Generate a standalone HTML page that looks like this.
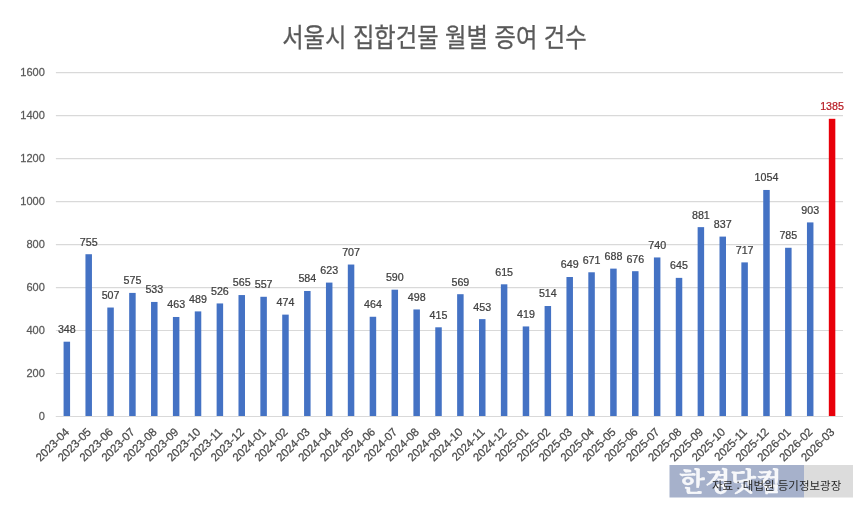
<!DOCTYPE html>
<html lang="ko"><head><meta charset="utf-8"><title>서울시 집합건물 월별 증여 건수</title>
<style>
html,body{margin:0;padding:0;background:#fff;}
body{width:860px;height:505px;overflow:hidden;}
svg{display:block;filter:blur(.4px);}
text{font-family:"Liberation Sans","Noto Sans CJK KR",sans-serif;}
.t{font-family:"Noto Sans CJK KR","Liberation Sans",sans-serif;font-weight:400;font-size:23.3px;fill:#595959;stroke:#595959;stroke-width:.25px;}
.ax{font-size:11.5px;fill:#595959;stroke:#595959;stroke-width:.25px;}
.xl{font-size:11.5px;fill:#4a4a4a;stroke:#4a4a4a;stroke-width:.25px;}
.dl{font-size:11.5px;fill:#404040;stroke:#404040;stroke-width:.25px;}
.src{font-family:"Noto Sans CJK KR","Liberation Sans",sans-serif;font-size:11.5px;fill:#262626;}
.wm{font-family:"Noto Serif CJK KR","Noto Serif CJK SC","Noto Sans CJK KR",serif;font-weight:700;font-size:26.5px;fill:#fff;fill-opacity:.9;stroke:#fff;stroke-opacity:.9;stroke-width:.4px;}
</style></head><body>
<svg width="860" height="505" viewBox="0 0 860 505">
<rect width="860" height="505" fill="#fff"/>
<text class="t" transform="translate(434.4,46.5) scale(1,1.12)" text-anchor="middle">서울시 집합건물 월별 증여 건수</text>
<line x1="55.9" x2="843.0" y1="416.50" y2="416.50" stroke="#d9d9d9" stroke-width="1.2"/>
<text class="ax" transform="translate(44.8,420.10) scale(0.96,1)" text-anchor="end">0</text>
<line x1="55.9" x2="843.0" y1="373.51" y2="373.51" stroke="#d9d9d9" stroke-width="1.2"/>
<text class="ax" transform="translate(44.8,377.11) scale(0.96,1)" text-anchor="end">200</text>
<line x1="55.9" x2="843.0" y1="330.52" y2="330.52" stroke="#d9d9d9" stroke-width="1.2"/>
<text class="ax" transform="translate(44.8,334.12) scale(0.96,1)" text-anchor="end">400</text>
<line x1="55.9" x2="843.0" y1="287.54" y2="287.54" stroke="#d9d9d9" stroke-width="1.2"/>
<text class="ax" transform="translate(44.8,291.14) scale(0.96,1)" text-anchor="end">600</text>
<line x1="55.9" x2="843.0" y1="244.55" y2="244.55" stroke="#d9d9d9" stroke-width="1.2"/>
<text class="ax" transform="translate(44.8,248.15) scale(0.96,1)" text-anchor="end">800</text>
<line x1="55.9" x2="843.0" y1="201.56" y2="201.56" stroke="#d9d9d9" stroke-width="1.2"/>
<text class="ax" transform="translate(44.8,205.16) scale(0.96,1)" text-anchor="end">1000</text>
<line x1="55.9" x2="843.0" y1="158.57" y2="158.57" stroke="#d9d9d9" stroke-width="1.2"/>
<text class="ax" transform="translate(44.8,162.17) scale(0.96,1)" text-anchor="end">1200</text>
<line x1="55.9" x2="843.0" y1="115.59" y2="115.59" stroke="#d9d9d9" stroke-width="1.2"/>
<text class="ax" transform="translate(44.8,119.19) scale(0.96,1)" text-anchor="end">1400</text>
<line x1="55.9" x2="843.0" y1="72.60" y2="72.60" stroke="#d9d9d9" stroke-width="1.2"/>
<text class="ax" transform="translate(44.8,76.20) scale(0.96,1)" text-anchor="end">1600</text>
<rect x="63.58" y="341.70" width="6.5" height="74.80" fill="#4472c4"/>
<text class="dl" transform="translate(66.83,333.10) scale(0.93,1)" text-anchor="middle">348</text>
<text class="xl" transform="translate(69.93,432.70) rotate(-45) scale(0.985,1)" text-anchor="end">2023-04</text>
<rect x="85.45" y="254.22" width="6.5" height="162.28" fill="#4472c4"/>
<text class="dl" transform="translate(88.70,245.62) scale(0.93,1)" text-anchor="middle">755</text>
<text class="xl" transform="translate(91.80,432.70) rotate(-45) scale(0.985,1)" text-anchor="end">2023-05</text>
<rect x="107.31" y="307.53" width="6.5" height="108.97" fill="#4472c4"/>
<text class="dl" transform="translate(110.56,298.93) scale(0.93,1)" text-anchor="middle">507</text>
<text class="xl" transform="translate(113.66,432.70) rotate(-45) scale(0.985,1)" text-anchor="end">2023-06</text>
<rect x="129.17" y="292.91" width="6.5" height="123.59" fill="#4472c4"/>
<text class="dl" transform="translate(132.42,284.31) scale(0.93,1)" text-anchor="middle">575</text>
<text class="xl" transform="translate(135.52,432.70) rotate(-45) scale(0.985,1)" text-anchor="end">2023-07</text>
<rect x="151.04" y="301.94" width="6.5" height="114.56" fill="#4472c4"/>
<text class="dl" transform="translate(154.29,293.34) scale(0.93,1)" text-anchor="middle">533</text>
<text class="xl" transform="translate(157.39,432.70) rotate(-45) scale(0.985,1)" text-anchor="end">2023-08</text>
<rect x="172.90" y="316.98" width="6.5" height="99.52" fill="#4472c4"/>
<text class="dl" transform="translate(176.15,308.38) scale(0.93,1)" text-anchor="middle">463</text>
<text class="xl" transform="translate(179.25,432.70) rotate(-45) scale(0.985,1)" text-anchor="end">2023-09</text>
<rect x="194.77" y="311.40" width="6.5" height="105.10" fill="#4472c4"/>
<text class="dl" transform="translate(198.02,302.80) scale(0.93,1)" text-anchor="middle">489</text>
<text class="xl" transform="translate(201.12,432.70) rotate(-45) scale(0.985,1)" text-anchor="end">2023-10</text>
<rect x="216.63" y="303.44" width="6.5" height="113.06" fill="#4472c4"/>
<text class="dl" transform="translate(219.88,294.84) scale(0.93,1)" text-anchor="middle">526</text>
<text class="xl" transform="translate(222.98,432.70) rotate(-45) scale(0.985,1)" text-anchor="end">2023-11</text>
<rect x="238.49" y="295.06" width="6.5" height="121.44" fill="#4472c4"/>
<text class="dl" transform="translate(241.74,286.46) scale(0.93,1)" text-anchor="middle">565</text>
<text class="xl" transform="translate(244.84,432.70) rotate(-45) scale(0.985,1)" text-anchor="end">2023-12</text>
<rect x="260.36" y="296.78" width="6.5" height="119.72" fill="#4472c4"/>
<text class="dl" transform="translate(263.61,288.18) scale(0.93,1)" text-anchor="middle">557</text>
<text class="xl" transform="translate(266.71,432.70) rotate(-45) scale(0.985,1)" text-anchor="end">2024-01</text>
<rect x="282.22" y="314.62" width="6.5" height="101.88" fill="#4472c4"/>
<text class="dl" transform="translate(285.47,306.02) scale(0.93,1)" text-anchor="middle">474</text>
<text class="xl" transform="translate(288.57,432.70) rotate(-45) scale(0.985,1)" text-anchor="end">2024-02</text>
<rect x="304.08" y="290.98" width="6.5" height="125.52" fill="#4472c4"/>
<text class="dl" transform="translate(307.33,282.38) scale(0.93,1)" text-anchor="middle">584</text>
<text class="xl" transform="translate(310.43,432.70) rotate(-45) scale(0.985,1)" text-anchor="end">2024-03</text>
<rect x="325.95" y="282.59" width="6.5" height="133.91" fill="#4472c4"/>
<text class="dl" transform="translate(329.20,273.99) scale(0.93,1)" text-anchor="middle">623</text>
<text class="xl" transform="translate(332.30,432.70) rotate(-45) scale(0.985,1)" text-anchor="end">2024-04</text>
<rect x="347.81" y="264.54" width="6.5" height="151.96" fill="#4472c4"/>
<text class="dl" transform="translate(351.06,255.94) scale(0.93,1)" text-anchor="middle">707</text>
<text class="xl" transform="translate(354.16,432.70) rotate(-45) scale(0.985,1)" text-anchor="end">2024-05</text>
<rect x="369.68" y="316.77" width="6.5" height="99.73" fill="#4472c4"/>
<text class="dl" transform="translate(372.93,308.17) scale(0.93,1)" text-anchor="middle">464</text>
<text class="xl" transform="translate(376.03,432.70) rotate(-45) scale(0.985,1)" text-anchor="end">2024-06</text>
<rect x="391.54" y="289.69" width="6.5" height="126.81" fill="#4472c4"/>
<text class="dl" transform="translate(394.79,281.09) scale(0.93,1)" text-anchor="middle">590</text>
<text class="xl" transform="translate(397.89,432.70) rotate(-45) scale(0.985,1)" text-anchor="end">2024-07</text>
<rect x="413.40" y="309.46" width="6.5" height="107.04" fill="#4472c4"/>
<text class="dl" transform="translate(416.65,300.86) scale(0.93,1)" text-anchor="middle">498</text>
<text class="xl" transform="translate(419.75,432.70) rotate(-45) scale(0.985,1)" text-anchor="end">2024-08</text>
<rect x="435.27" y="327.30" width="6.5" height="89.20" fill="#4472c4"/>
<text class="dl" transform="translate(438.52,318.70) scale(0.93,1)" text-anchor="middle">415</text>
<text class="xl" transform="translate(441.62,432.70) rotate(-45) scale(0.985,1)" text-anchor="end">2024-09</text>
<rect x="457.13" y="294.20" width="6.5" height="122.30" fill="#4472c4"/>
<text class="dl" transform="translate(460.38,285.60) scale(0.93,1)" text-anchor="middle">569</text>
<text class="xl" transform="translate(463.48,432.70) rotate(-45) scale(0.985,1)" text-anchor="end">2024-10</text>
<rect x="479.00" y="319.13" width="6.5" height="97.37" fill="#4472c4"/>
<text class="dl" transform="translate(482.25,310.53) scale(0.93,1)" text-anchor="middle">453</text>
<text class="xl" transform="translate(485.35,432.70) rotate(-45) scale(0.985,1)" text-anchor="end">2024-11</text>
<rect x="500.86" y="284.31" width="6.5" height="132.19" fill="#4472c4"/>
<text class="dl" transform="translate(504.11,275.71) scale(0.93,1)" text-anchor="middle">615</text>
<text class="xl" transform="translate(507.21,432.70) rotate(-45) scale(0.985,1)" text-anchor="end">2024-12</text>
<rect x="522.72" y="326.44" width="6.5" height="90.06" fill="#4472c4"/>
<text class="dl" transform="translate(525.97,317.84) scale(0.93,1)" text-anchor="middle">419</text>
<text class="xl" transform="translate(529.07,432.70) rotate(-45) scale(0.985,1)" text-anchor="end">2025-01</text>
<rect x="544.59" y="306.02" width="6.5" height="110.48" fill="#4472c4"/>
<text class="dl" transform="translate(547.84,297.42) scale(0.93,1)" text-anchor="middle">514</text>
<text class="xl" transform="translate(550.94,432.70) rotate(-45) scale(0.985,1)" text-anchor="end">2025-02</text>
<rect x="566.45" y="277.01" width="6.5" height="139.49" fill="#4472c4"/>
<text class="dl" transform="translate(569.70,268.41) scale(0.93,1)" text-anchor="middle">649</text>
<text class="xl" transform="translate(572.80,432.70) rotate(-45) scale(0.985,1)" text-anchor="end">2025-03</text>
<rect x="588.32" y="272.28" width="6.5" height="144.22" fill="#4472c4"/>
<text class="dl" transform="translate(591.57,263.68) scale(0.93,1)" text-anchor="middle">671</text>
<text class="xl" transform="translate(594.67,432.70) rotate(-45) scale(0.985,1)" text-anchor="end">2025-04</text>
<rect x="610.18" y="268.62" width="6.5" height="147.88" fill="#4472c4"/>
<text class="dl" transform="translate(613.43,260.02) scale(0.93,1)" text-anchor="middle">688</text>
<text class="xl" transform="translate(616.53,432.70) rotate(-45) scale(0.985,1)" text-anchor="end">2025-05</text>
<rect x="632.04" y="271.20" width="6.5" height="145.30" fill="#4472c4"/>
<text class="dl" transform="translate(635.29,262.60) scale(0.93,1)" text-anchor="middle">676</text>
<text class="xl" transform="translate(638.39,432.70) rotate(-45) scale(0.985,1)" text-anchor="end">2025-06</text>
<rect x="653.91" y="257.45" width="6.5" height="159.05" fill="#4472c4"/>
<text class="dl" transform="translate(657.16,248.85) scale(0.93,1)" text-anchor="middle">740</text>
<text class="xl" transform="translate(660.26,432.70) rotate(-45) scale(0.985,1)" text-anchor="end">2025-07</text>
<rect x="675.77" y="277.87" width="6.5" height="138.63" fill="#4472c4"/>
<text class="dl" transform="translate(679.02,269.27) scale(0.93,1)" text-anchor="middle">645</text>
<text class="xl" transform="translate(682.12,432.70) rotate(-45) scale(0.985,1)" text-anchor="end">2025-08</text>
<rect x="697.63" y="227.14" width="6.5" height="189.36" fill="#4472c4"/>
<text class="dl" transform="translate(700.88,218.54) scale(0.93,1)" text-anchor="middle">881</text>
<text class="xl" transform="translate(703.98,432.70) rotate(-45) scale(0.985,1)" text-anchor="end">2025-09</text>
<rect x="719.50" y="236.60" width="6.5" height="179.90" fill="#4472c4"/>
<text class="dl" transform="translate(722.75,228.00) scale(0.93,1)" text-anchor="middle">837</text>
<text class="xl" transform="translate(725.85,432.70) rotate(-45) scale(0.985,1)" text-anchor="end">2025-10</text>
<rect x="741.36" y="262.39" width="6.5" height="154.11" fill="#4472c4"/>
<text class="dl" transform="translate(744.61,253.79) scale(0.93,1)" text-anchor="middle">717</text>
<text class="xl" transform="translate(747.71,432.70) rotate(-45) scale(0.985,1)" text-anchor="end">2025-11</text>
<rect x="763.23" y="189.96" width="6.5" height="226.54" fill="#4472c4"/>
<text class="dl" transform="translate(766.48,181.36) scale(0.93,1)" text-anchor="middle">1054</text>
<text class="xl" transform="translate(769.58,432.70) rotate(-45) scale(0.985,1)" text-anchor="end">2025-12</text>
<rect x="785.09" y="247.77" width="6.5" height="168.73" fill="#4472c4"/>
<text class="dl" transform="translate(788.34,239.17) scale(0.93,1)" text-anchor="middle">785</text>
<text class="xl" transform="translate(791.44,432.70) rotate(-45) scale(0.985,1)" text-anchor="end">2026-01</text>
<rect x="806.95" y="222.41" width="6.5" height="194.09" fill="#4472c4"/>
<text class="dl" transform="translate(810.20,213.81) scale(0.93,1)" text-anchor="middle">903</text>
<text class="xl" transform="translate(813.30,432.70) rotate(-45) scale(0.985,1)" text-anchor="end">2026-02</text>
<rect x="828.82" y="118.81" width="6.5" height="297.69" fill="#e8000a"/>
<text class="dl" transform="translate(832.07,110.21) scale(0.93,1)" text-anchor="middle" style="fill:#b81c24;stroke:#b81c24">1385</text>
<text class="xl" transform="translate(835.17,432.70) rotate(-45) scale(0.985,1)" text-anchor="end">2026-03</text>
<line x1="55.9" x2="843.0" y1="416.50" y2="416.50" stroke="#d9d9d9" stroke-width="1.2"/>
<rect x="669.5" y="465" width="134.5" height="32.5" fill="#a6b1cb"/>
<rect x="804" y="465" width="49" height="32.5" fill="#dcdcdc"/>
<text class="wm" x="730.5" y="490.5" text-anchor="middle">한경닷컴</text>
<text class="src" x="712" y="490">자료 : 대법원 등기정보광장</text>
</svg>
</body></html>
